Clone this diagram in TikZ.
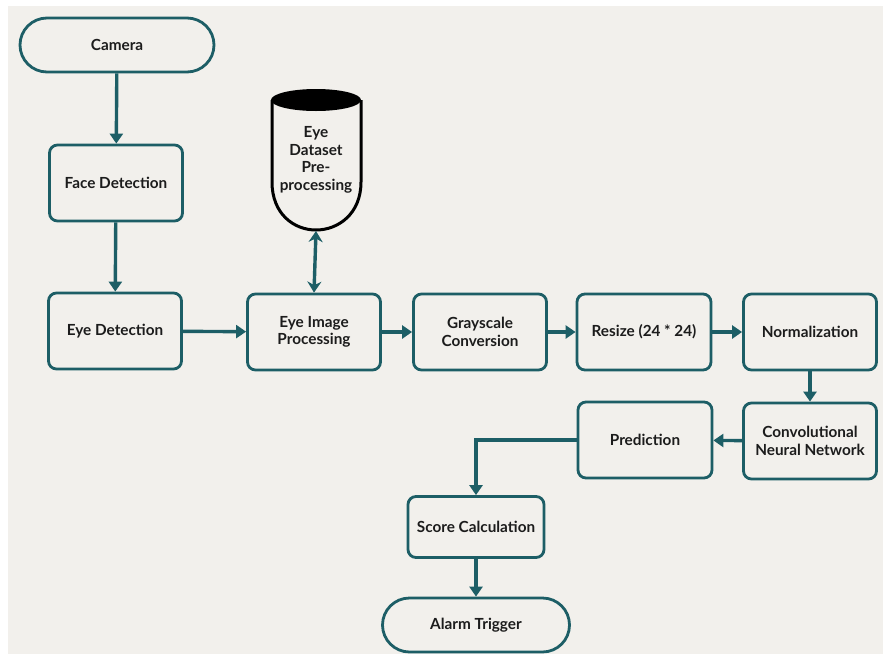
\documentclass[tikz,border=0pt]{standalone}
\usepackage{fontspec}
\setmainfont{Lato}[UprightFont=* Bold]
\usetikzlibrary{arrows.meta}
\definecolor{flowteal}{HTML}{1D5E66}
\definecolor{paper}{HTML}{F2F0EC}
\definecolor{ink}{HTML}{1C1C1C}
\tikzset{
  procbox/.style={draw=flowteal, line width=2.8pt, rounded corners=8pt, fill=paper,
    minimum width=#1, minimum height=76pt, inner sep=0pt, align=center,
    text=ink, font=\fontsize{15.3}{17.5}\selectfont},
  procbox/.default=133pt,
  terminal/.style={draw=flowteal, line width=2.8pt, rounded corners=27pt, fill=paper,
    minimum width=#1, minimum height=54pt, inner sep=0pt, align=center,
    text=ink, font=\fontsize{15.3}{17.5}\selectfont},
  flow/.style={draw=flowteal, line width=3.4pt, -{Triangle[length=10pt,width=13pt]}},
  twoway/.style={draw=flowteal, line width=3.4pt, {Stealth[length=11pt,width=14pt]}-{Stealth[length=11pt,width=14pt]}},
}
\begin{document}
\begin{tikzpicture}[x=1pt,y=-1pt]
  % page and paper
  \useasboundingbox (0,0) rectangle (883,654);
  \fill[white] (0,0) rectangle (883,654);
  \fill[paper] (8,6) rectangle (883,654);

  % nodes
  \node[terminal=194pt] (camera) at (117,45) {Camera};
  \node[procbox] (face) at (116,183) {Face Detection};
  \node[procbox] (eyedet) at (115,331) {Eye Detection};
  \node[procbox] (eyeimg) at (314,332) {Eye Image\\Processing};
  \node[procbox] (gray) at (480,332) {Grayscale\\Conversion};
  \node[procbox=134pt] (resize) at (644,332) {Resize (24 * 24)};
  \node[procbox] (norm) at (810,332) {Normalization};
  \node[procbox] (cnn) at (810,441) {Convolutional\\Neural Network};
  \node[procbox=134pt] (pred) at (645,440) {Prediction};
  \node[procbox=136pt, minimum height=61pt] (score) at (476,527) {Score Calculation};
  \node[terminal=187pt] (alarm) at (476,625) {Alarm Trigger};

  % dataset cylinder
  \draw[black, line width=3pt, fill=paper]
    (272,100) -- (272,182) .. controls (272,214) and (294,230) .. (316,230)
    .. controls (338,230) and (361,214) .. (361,182) -- (361,100);
  \fill[black] (316,100) ellipse [x radius=45, y radius=11];
  \node[inner sep=0pt, align=center, text=ink, font=\fontsize{15.3}{17.5}\selectfont]
    (dataset) at (316,160) {Eye\\Dataset\\Pre-\\processing};
  \coordinate (dsbottom) at (316,231);

  % connectors
  \draw[flow] (camera) -- (face);
  \draw[flow] (face) -- (eyedet);
  \draw[flow] (eyedet) -- (eyeimg);
  \draw[twoway] (dsbottom) -- (eyeimg.north);
  \draw[flow] (eyeimg) -- (gray);
  \draw[flow] (gray) -- (resize);
  \draw[flow] (resize) -- (norm);
  \draw[flow] (norm) -- (cnn);
  \draw[flow] (cnn) -- (pred);
  \draw[flow] (pred.west) -| (score.north);
  \draw[flow] (score) -- (alarm);
\end{tikzpicture}
\end{document}
